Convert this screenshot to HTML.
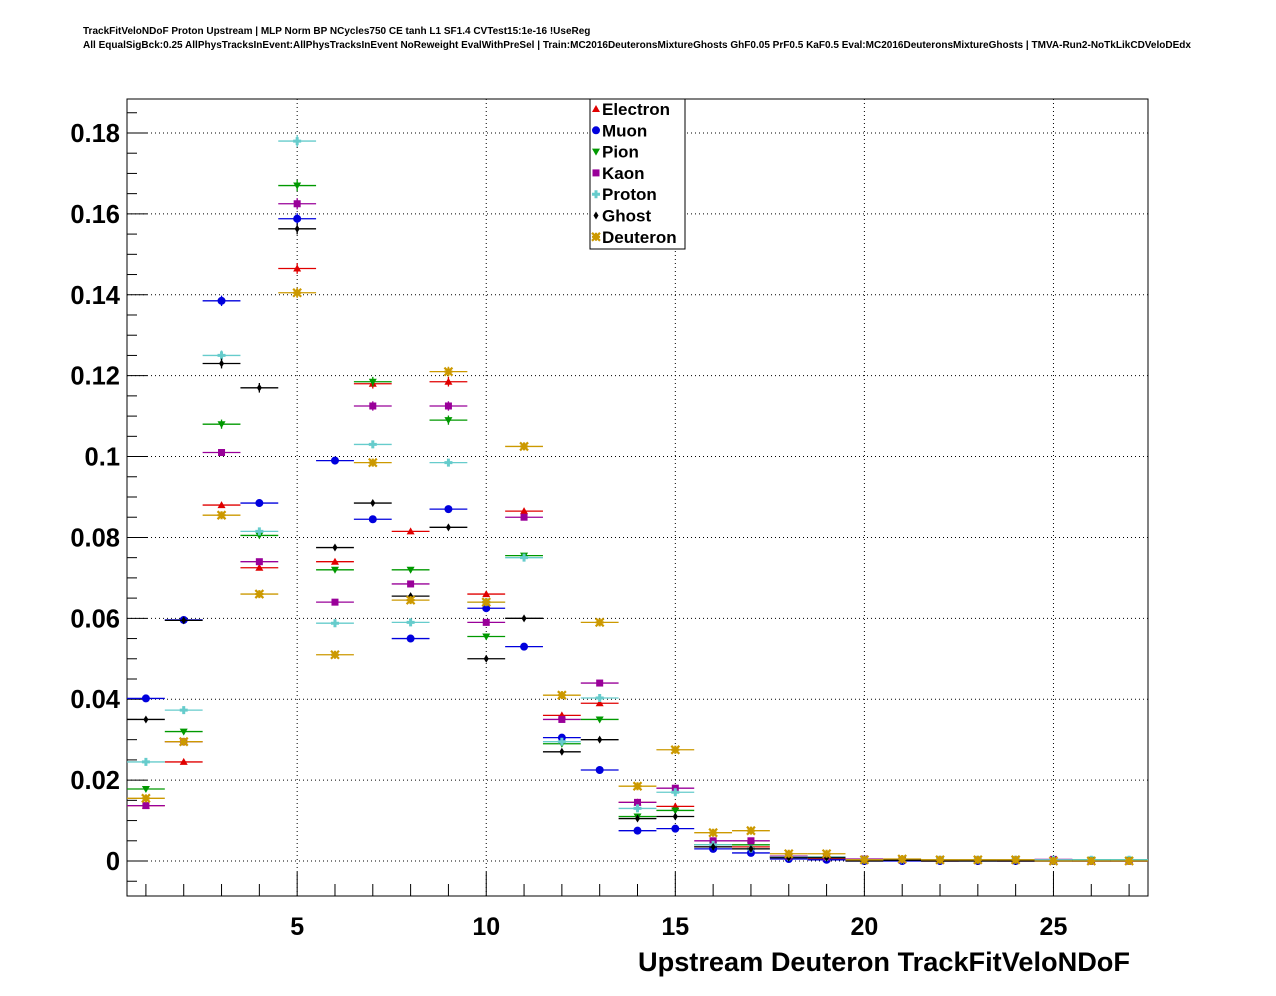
<!DOCTYPE html>
<html><head><meta charset="utf-8"><style>
body{margin:0;background:#fff;}
svg{display:block;font-family:"Liberation Sans",Arial,sans-serif;}
</style></head><body>
<svg id="c" width="1276" height="996">
<text x="83" y="34" font-size="10" font-weight="bold">TrackFitVeloNDoF Proton Upstream | MLP Norm BP NCycles750 CE tanh L1 SF1.4 CVTest15:1e-16 !UseReg</text>
<text x="83" y="48" font-size="10" font-weight="bold" textLength="1108" lengthAdjust="spacingAndGlyphs">All EqualSigBck:0.25 AllPhysTracksInEvent:AllPhysTracksInEvent NoReweight EvalWithPreSel | Train:MC2016DeuteronsMixtureGhosts GhF0.05 PrF0.5 KaF0.5 Eval:MC2016DeuteronsMixtureGhosts | TMVA-Run2-NoTkLikCDVeloDEdx</text>
<g id="grid"></g><g id="axes"></g><g id="marks"></g><g id="legend"></g>
<text x="1130" y="971" font-size="27" font-weight="bold" text-anchor="end" textLength="492" lengthAdjust="spacingAndGlyphs">Upstream Deuteron TrackFitVeloNDoF</text>
</svg>
<script>
const bins=[1,2,3,4,5,6,7,8,9,10,11,12,13,14,15,16,17,18,19,20,21,22,23,24,25,26,27];
const seriesNames=["Electron","Muon","Pion","Kaon","Proton","Ghost","Deuteron"];
const electron=[0.0137,0.0245,0.088,0.0725,0.1465,0.074,0.118,0.0815,0.1185,0.066,0.0865,0.036,0.039,0.0145,0.0135,0.0035,0.0035,0.001,0.0005,0.0002,0.0001,0,0.0002,0,0,0,0];
const muon=[0.0402,0.0596,0.1385,0.0885,0.1588,0.099,0.0845,0.055,0.087,0.0625,0.053,0.0305,0.0225,0.0075,0.008,0.003,0.002,0.0005,0.0003,0,0,0,0,0,0,0,0];
const pion=[0.0178,0.032,0.108,0.0805,0.167,0.072,0.1185,0.072,0.109,0.0555,0.0755,0.029,0.035,0.011,0.0125,0.004,0.004,0.001,0.001,0.0003,0.0003,0.0002,0.0003,0.0002,0.0003,0.0003,0.0003];
const kaon=[0.0137,0.0295,0.101,0.074,0.1625,0.064,0.1125,0.0685,0.1125,0.059,0.085,0.035,0.044,0.0145,0.018,0.005,0.005,0.0012,0.001,0.0005,0.0003,0.0003,0.0003,0.0003,0.0004,0,0];
const proton=[0.0245,0.0373,0.125,0.0815,0.178,0.0588,0.103,0.059,0.0985,0.064,0.075,0.0295,0.0403,0.013,0.017,0.004,0.003,0.001,0.001,0.0003,0.0003,0.0003,0.0003,0.0003,0.0003,0.0003,0.0003];
const ghost=[0.035,0.0595,0.123,0.117,0.1563,0.0775,0.0885,0.0655,0.0825,0.05,0.06,0.027,0.03,0.0105,0.011,0.0035,0.003,0.0008,0.0008,0,0.0002,0,0,0,0,0,0];
const deuteron=[0.0155,0.0295,0.0855,0.066,0.1405,0.051,0.0985,0.0645,0.121,0.064,0.1025,0.041,0.059,0.0185,0.0275,0.007,0.0075,0.0018,0.0018,0.0003,0.0005,0.0003,0.0003,0.0003,0,0,0];
const yTicks=[0,0.02,0.04,0.06,0.08,0.1,0.12,0.14,0.16,0.18];
const yTickLabels=["0","0.02","0.04","0.06","0.08","0.1","0.12","0.14","0.16","0.18"];
const xTicks=[5,10,15,20,25];
const xTickLabels=["5","10","15","20","25"];

const NS="http://www.w3.org/2000/svg";
const L=127,R=1148,T=99,B=896,xmin=0.5,xmax=27.5,ymin=-0.00865,ymax=0.1884;
const X=v=>L+(v-xmin)/(xmax-xmin)*(R-L);
const Y=v=>B-(v-ymin)/(ymax-ymin)*(B-T);
function mk(tag,at,parent){const e=document.createElementNS(NS,tag);for(const k in at)e.setAttribute(k,at[k]);parent.appendChild(e);return e;}
const grid=document.getElementById('grid'),axes=document.getElementById('axes'),marks=document.getElementById('marks'),leg=document.getElementById('legend');
xTicks.forEach(v=>{const g=mk('line',{x1:X(v),x2:X(v),y1:T,y2:B,stroke:'#000','stroke-width':1,'stroke-dasharray':'1,3'},grid);

});
yTicks.forEach(v=>{const g=mk('line',{x1:L,x2:R,y1:Y(v),y2:Y(v),stroke:'#000','stroke-width':1,'stroke-dasharray':'1,3'},grid);

});
const fr=mk('rect',{x:L,y:T,width:R-L,height:B-T,fill:'none',stroke:'#000','stroke-width':1},axes);


for(let v=-0.005;v<=0.186;v+=0.005){const major=Math.abs(Math.round(v/0.02)*0.02-v)<1e-6;
const t=mk('line',{x1:L,x2:L+(major?20:10),y1:Y(v),y2:Y(v),stroke:'#000'},axes);

}
yTicks.forEach((v,i)=>{const t=mk('text',{x:120,y:Y(v)+9,'font-size':25.5,'font-weight':'bold','text-anchor':'end'},axes);t.textContent=yTickLabels[i];

});
for(let v=1;v<=27;v++){const major=v%5===0;
const t=mk('line',{x1:X(v),x2:X(v),y1:B,y2:B-(major?24:12),stroke:'#000'},axes);

}
xTicks.forEach((v,i)=>{const t=mk('text',{x:X(v),y:935,'font-size':25,'font-weight':'bold','text-anchor':'middle'},axes);t.textContent=xTickLabels[i];

});
function marker(type,cx,cy,col,p){
 if(type==='tu')return mk('polygon',{points:`${cx},${cy-4} ${cx-4},${cy+3} ${cx+4},${cy+3}`,fill:col},p);
 if(type==='c')return mk('circle',{cx:cx,cy:cy,r:4,fill:col},p);
 if(type==='td')return mk('polygon',{points:`${cx},${cy+4} ${cx-4},${cy-3} ${cx+4},${cy-3}`,fill:col},p);
 if(type==='s')return mk('rect',{x:cx-3.5,y:cy-3.5,width:7,height:7,fill:col},p);
 if(type==='p')return mk('path',{d:`M${cx-1.5},${cy-4}h3v2.5h2.5v3h-2.5v2.5h-3v-2.5h-2.5v-3h2.5z`,fill:col},p);
 if(type==='d')return mk('polygon',{points:`${cx},${cy-4} ${cx+2.5},${cy} ${cx},${cy+4} ${cx-2.5},${cy}`,fill:col},p);
 return mk('path',{d:`M${cx-4},${cy-4}L${cx+4},${cy+4}M${cx+4},${cy-4}L${cx-4},${cy+4}M${cx-4},${cy}H${cx+4}M${cx},${cy-4}V${cy+4}`,stroke:col,'stroke-width':2.2,fill:'none'},p);
}
const all=[electron,muon,pion,kaon,proton,ghost,deuteron];
const cols=['#e00000','#0000dd','#009900','#990099','#66cccc','#000000','#cc9900'];
const types=['tu','c','td','s','p','d','st'];
const keys=['electron','muon','pion','kaon','proton','ghost','deuteron'];
all.forEach((arr,s)=>{
 const g=mk('g',{},marks);
 
 
 arr.forEach((v,i)=>{const b=bins[i];const cy=Y(v);
  const h=mk('line',{x1:X(b-0.5),x2:X(b+0.5),y1:cy,y2:cy,stroke:cols[s],'stroke-width':1.3},g);
  
  
  const e=Math.sqrt(Math.max(v,0))*14;
  if(e>4.5){const vl=mk('line',{x1:X(b),x2:X(b),y1:cy-e,y2:cy+e,stroke:cols[s],'stroke-width':1.3},g);
  
  }
  const m=marker(types[s],X(b),cy,cols[s],g);
  
  
 });
});
const lb=mk('rect',{x:590,y:99,width:95,height:150,fill:'#fff',stroke:'#000'},leg);


seriesNames.forEach((n,i)=>{const y=109+i*21.3;
 const m=marker(types[i],596,y,cols[i],leg);
 
 
 const t=mk('text',{x:602,y:y+6,'font-size':17,'font-weight':'bold'},leg);t.textContent=n;
 
 
});
</script>
</body></html>
